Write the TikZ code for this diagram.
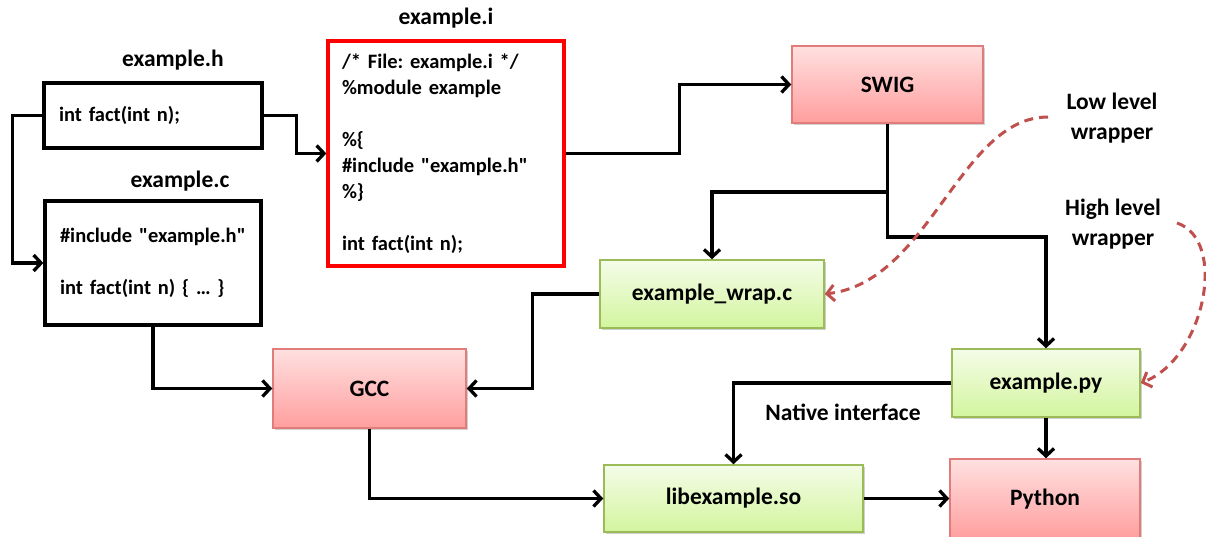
\documentclass[tikz,border=0pt]{standalone}
\usepackage{fontspec}
\setmainfont{Carlito}[Ligatures=TeXOff]
\usetikzlibrary{arrows.meta,shadows,calc}
\definecolor{pinktop}{HTML}{FFE0E0}
\definecolor{pinkbot}{HTML}{FF9E9E}
\definecolor{pinkline}{HTML}{E07C7A}
\definecolor{greentop}{HTML}{F4FCE8}
\definecolor{greenbot}{HTML}{D3F59E}
\definecolor{greenline}{HTML}{9BBB59}
\definecolor{notecol}{HTML}{C0504D}
\newcommand{\codefnt}{\bfseries\fontsize{20.5}{26}\selectfont\frenchspacing}
\newcommand{\lblfnt}{\bfseries\fontsize{23.5}{30}\selectfont}
\begin{document}
\begin{tikzpicture}[x=1pt,y=-1pt,
  shad/.style={drop shadow={shadow xshift=2pt,shadow yshift=-2pt,opacity=0.3,fill=black!60}},
  codebox/.style={draw=black,line width=3.3pt,fill=white,inner sep=0pt,inner xsep=15pt,align=left,font=\codefnt,shad},
  tag/.style={font=\lblfnt,inner sep=0pt},
  pinkbox/.style={draw=pinkline,line width=1.5pt,top color=pinktop,bottom color=pinkbot,inner sep=0pt,font=\lblfnt,shad},
  greenbox/.style={draw=greenline,line width=1.5pt,top color=greentop,bottom color=greenbot,inner sep=0pt,font=\lblfnt,shad},
  conn/.style={line width=3.3pt,black,-{Straight Barb[length=7.5pt,width=16pt]}},
  plain/.style={line width=3.3pt,black},
  note/.style={line width=3pt,notecol,dash pattern=on 9pt off 6pt,-{Straight Barb[length=7.5pt,width=16pt]}}
]
\clip (0,0) rectangle (1206,537);
\fill[white] (0,0) rectangle (1206,537);

% titles
\node[tag] (th) at (173,60) {example.h};
\node[tag] (tc) at (180,181) {example.c};
\node[tag] (ti) at (446,18) {example.i};

% code boxes
\node[codebox,text width=188pt,minimum height=65pt] (exh) at (153,115.5) {int fact(int n);};
\node[codebox,text width=186pt,minimum height=124pt] (exc) at (153,263) {\#include "example.h"\\[26pt]int fact(int n) \{ … \}};
\node[codebox,draw=red,text width=208pt,inner xsep=14pt,minimum height=225pt] (exi) at (446,153.5)
  {/* File: example.i */\\ \%module example\\[26pt] \%\{\\ \#include "example.h"\\ \%\}\\[26pt] int fact(int n);};

% coloured boxes
\node[pinkbox,minimum width=191pt,minimum height=77pt] (swig) at (887.5,84.5) {SWIG};
\node[greenbox,minimum width=224pt,minimum height=68pt] (wrap) at (712,294) {example\_wrap.c};
\node[pinkbox,minimum width=193pt,minimum height=79pt] (gcc) at (369.5,388.5) {GCC};
\node[greenbox,minimum width=259pt,minimum height=67pt] (lib) at (733.5,498.5) {libexample.so};
\node[greenbox,minimum width=188pt,minimum height=68pt] (py) at (1046,383) {example.py};
\node[pinkbox,minimum width=190pt,minimum height=80pt] (python) at (1045,499) {Python};

% labels
\node[tag] (native) at (843,412) {Native interface};
\node[tag,align=center] (low) at (1112,118) {Low level\\wrapper};
\node[tag,align=center] (high) at (1113,224) {High level\\wrapper};

% connectors
\draw[conn] (exh.west) -- ++(-30,0) |- (exc.west);
\draw[conn] (exh.east) -- ++(33,0) |- (exi.west);
\draw[conn] (exi.east) -- ++(114,0) |- (swig.west);
\coordinate (br) at (887.5,192);
\draw[plain] (swig.south) -- (br);
\draw[conn] (br) -| (wrap.north);
\draw[conn] (br) -- ++(0,45) -| (py.north);
\draw[conn] (wrap.west) -- ++(-67,0) |- (gcc.east);
\draw[conn] (exc.south) |- (gcc.west);
\draw[conn] (gcc.south) |- (lib.west);
\draw[conn] (lib.east) -- (lib.east -| python.west);
\draw[conn] (py.west) -| (lib.north);
\draw[conn] (py.south) -- (py.south |- python.north);

% notes
\coordinate (lowstart) at (1048,117);
\coordinate (highstart) at (1177,223);
\draw[note] (lowstart) .. controls (960,117) and (930,282) .. (wrap.east);
\draw[note] (highstart) .. controls (1228,240) and (1205,358) .. (py.east);
\end{tikzpicture}
\end{document}
